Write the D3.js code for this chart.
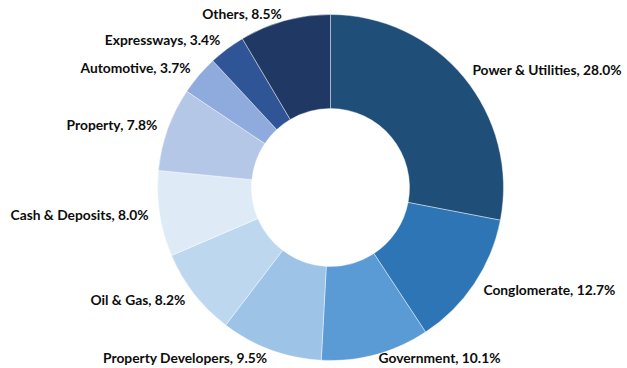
<!DOCTYPE html>
<html>
<head>
<meta charset="utf-8">
<script src="https://cdn.jsdelivr.net/npm/d3@7"></script>
<style>
  body { margin: 0; background: #fff; }
  .label { font-family: Lato, "Open Sans", sans-serif; font-weight: bold; font-size: 13.8px; fill: #0d0d0d; }
  .slice { stroke: #fff; stroke-width: 0.6; stroke-opacity: 0.7; }
</style>
</head>
<body>
<script>
  var width = 627, height = 368,
    cx = 330.5, cy = 187.5,
    outerR = 173, innerR = 79, labelR = 184;

  var sectors = ["Power & Utilities", "Conglomerate", "Government", "Property Developers",
    "Oil & Gas", "Cash & Deposits", "Property", "Automotive", "Expressways", "Others"];
  var shares = [28.0, 12.7, 10.1, 9.5, 8.2, 8.0, 7.8, 3.7, 3.4, 8.5];
  var colors = ["#1f4e79", "#2e75b6", "#5b9bd5", "#9dc3e6", "#bdd7ee",
    "#deebf7", "#b4c7e7", "#8faadc", "#2f5597", "#203864"];

  var data = sectors.map(function (s, i) { return { name: s, value: shares[i] }; });

  var svg = d3.select("body").append("svg")
    .attr("width", width)
    .attr("height", height);

  var g = svg.append("g").attr("transform", "translate(" + cx + "," + cy + ")");

  var pie = d3.pie().sort(null).value(function (d) { return d.value; });
  var arc = d3.arc().innerRadius(innerR).outerRadius(outerR);
  var color = d3.scaleOrdinal().domain(sectors).range(colors);

  var arcs = pie(data);

  function mid(d) { return (d.startAngle + d.endAngle) / 2; }

  g.selectAll(".slice")
    .data(arcs)
    .enter().append("path")
    .attr("class", "slice")
    .attr("d", arc)
    .attr("fill", function (d) { return color(d.data.name); });

  var labels = g.selectAll(".label")
    .data(arcs)
    .enter().append("text")
    .attr("class", "label")
    .attr("dy", "0.35em")
    .attr("text-anchor", function (d) { return Math.sin(mid(d)) >= 0 ? "start" : "end"; })
    .text(function (d) { return d.data.name + ", " + d.data.value.toFixed(1) + "%"; });

  // keep labels inside the chart area, like the spreadsheet does
  labels.each(function (d) {
    var node = d3.select(this),
      w = this.getComputedTextLength(),
      right = Math.sin(mid(d)) >= 0,
      x = labelR * Math.sin(mid(d)),
      y = -labelR * Math.cos(mid(d));
    if (right && cx + x + w > width - 1) { x = width - 1 - w - cx; }
    if (!right && cx + x - w < 1) { x = 1 + w - cx; }
    y = Math.max(14 - cy, Math.min(height - 10 - cy, y));
    node.attr("x", x).attr("y", y);
  });
</script>
</body>
</html>
